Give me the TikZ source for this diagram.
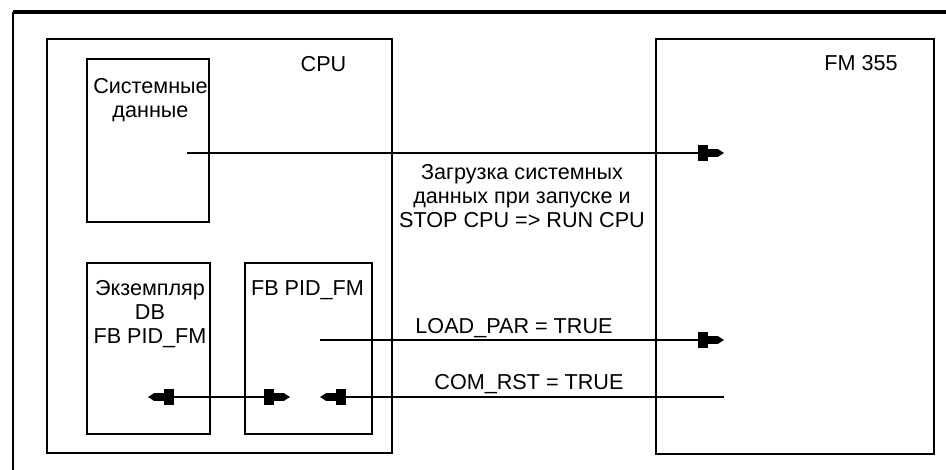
\documentclass[tikz,border=0pt]{standalone}
\usepackage{fontspec}
\setmainfont{Liberation Sans}
\usetikzlibrary{arrows.meta,fit}
\begin{document}
\begin{tikzpicture}[x=0.5pt,y=-0.5pt,
  every node/.style={inner sep=0pt,outer sep=0pt,font=\fontsize{10.8}{12}\selectfont},
  box/.style={draw,line width=1pt,rectangle,inner sep=0pt},
  lbl/.style={align=center},
  wire/.style={line width=0.8pt},
  flagtip/.style={-{Rectangle[length=5pt,width=8pt]Rectangle[length=5pt,width=3.6pt]Triangle[length=3pt,width=3.6pt]}},
  flagboth/.style={{Triangle[length=3pt,width=3.6pt]Rectangle[length=5pt,width=3.6pt]Rectangle[length=5pt,width=8pt]}-{Rectangle[length=5pt,width=8pt]Rectangle[length=5pt,width=3.6pt]Triangle[length=3pt,width=3.6pt]}}]
\useasboundingbox (0,0) rectangle (946,470);
% outer frame (partly visible)
\coordinate (fbl) at (13,470);
\coordinate (ftl) at (13,12);
\coordinate (ftr) at (946,12);
\draw[line width=1pt] (fbl) -- (ftl);
\draw[line width=1.8pt] (ftl) -- (ftr);
% boxes
\node[box,fit={(47,39)(392,453)}] (cpu) {};
\node[box,fit={(656,39)(934,454)}] (fm) {};
\node[box,fit={(87,59)(209,222)}] (sys) {};
\node[box,fit={(87,263)(210,434)}] (inst) {};
\node[box,fit={(245,263)(372,434)}] (fb) {};
% labels
\node[anchor=base] (cpul) at (323.5,72) {CPU};
\node[anchor=base] (fml) at (861,70.5) {FM 355};
\node[lbl,anchor=north] (sysl) at (150.5,78.5) {Системные\\данные};
\node[lbl,anchor=north] (instl) at (150,280.5) {Экземпляр\\DB\\FB PID\_FM};
\node[lbl,anchor=north] (fbl2) at (307.5,280.5) {FB PID\_FM};
\node[lbl,anchor=north] (loadl) at (522,164.5) {Загрузка системных\\данных при запуске и\\STOP CPU => RUN CPU};
\node[anchor=base] (lpl) at (514,333.5) {LOAD\_PAR = TRUE};
\node[anchor=base] (crl) at (529,389.5) {COM\_RST = TRUE};
% connector end points
\coordinate (a1) at (187,153);
\coordinate (b1) at (724,153);
\coordinate (a2) at (320,340);
\coordinate (b2) at (724,340);
\coordinate (a3) at (724,397);
\coordinate (b3) at (320,397);
\coordinate (a4) at (148,397);
\coordinate (b4) at (290,397);
\draw[wire,flagtip] (a1) -- (b1);
\draw[wire,flagtip] (a2) -- (b2);
\draw[wire,flagtip] (a3) -- (b3);
\draw[wire,flagboth] (a4) -- (b4);
\end{tikzpicture}
\end{document}
